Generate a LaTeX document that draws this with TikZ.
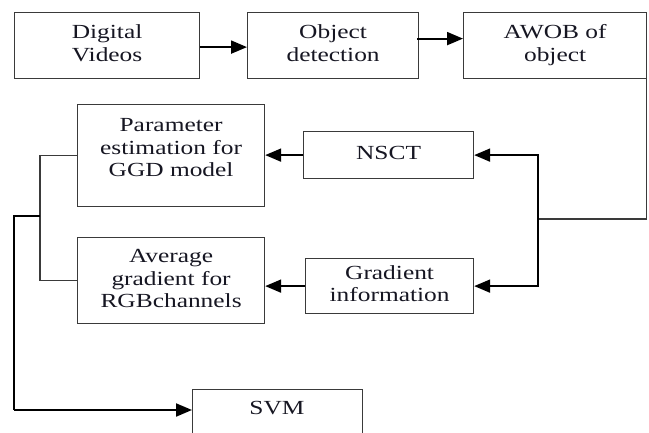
\documentclass[tikz,border=0pt]{standalone}
\usepackage{fontspec}
\setmainfont{Liberation Serif}
\usetikzlibrary{arrows.meta}
\definecolor{edge}{HTML}{3A3A3A}
\definecolor{ink}{HTML}{161622}
\newcommand\wtxt[1]{\scalebox{1.27}[1]{\begin{tabular}{@{}c@{}}#1\end{tabular}}}
\tikzset{
  box/.style={draw=edge, line width=1.2pt, rectangle, anchor=north west, inner sep=0pt,
    align=center, font=\rmfamily\fontsize{20}{22.5}\selectfont, text=ink},
  txt/.style={inner sep=0pt, align=center, font=\rmfamily\fontsize{20}{22.5}\selectfont, text=ink},
  arr/.style={draw=black, line width=2pt, -{Triangle[length=16pt,width=13pt]}},
  thinline/.style={draw=edge, line width=1.2pt},
  midline/.style={draw=black, line width=1.5pt}
}
\begin{document}
\begin{tikzpicture}[x=1pt,y=-1pt]
\useasboundingbox (0,0) rectangle (649,432);
\clip (0,0) rectangle (649,432);
% top row
\node[box, minimum width=185, minimum height=66] (dv) at (14,12) {\wtxt{Digital\\Videos}};
\node[box, minimum width=171, minimum height=66] (od) at (247,12) {\wtxt{Object\\detection}};
\node[box, minimum width=183, minimum height=66] (aw) at (463,12) {\wtxt{AWOB of\\object}};
% middle
\node[box, minimum width=187, minimum height=102] (par) at (77,104) {};
\node[txt] (parT) at ([yshift=6pt]par.center) {\wtxt{Parameter\\estimation for\\GGD model}};
\node[box, minimum width=170, minimum height=47] (nsct) at (303,131) {\wtxt{NSCT}};
\node[box, minimum width=187, minimum height=86] (ag) at (77,237) {\wtxt{Average\\gradient for\\RGBchannels}};
\node[box, minimum width=168, minimum height=55] (gi) at (305,258) {\wtxt{Gradient\\information}};
% bottom
\node[box, minimum width=170, minimum height=60] (svm) at (192,389) {};
\node[txt] (svmT) at (277,410) {\wtxt{SVM}};
% coordinates
\coordinate (split) at (538,219);
\coordinate (lj) at (40,216);
\coordinate (lc) at (14,216);
\coordinate (lb) at (14,410);
% top arrows
\draw[arr] ([yshift=-1.5pt]dv.east) -- ([yshift=-1.5pt]dv.east -| od.west);
\draw[arr] ([xshift=-2pt,yshift=7pt]od.east) -- ([yshift=7pt]od.east -| aw.west);
% right distribution
\draw[thinline] ([xshift=-0.6pt]aw.south east) |- (split);
\draw[arr] (split) |- (nsct.east);
\draw[arr] (split) |- (gi.east);
% into left boxes
\draw[arr] (nsct.west) -- (nsct.west -| par.east);
\draw[arr] (gi.west) -- (gi.west -| ag.east);
% left collector
\draw[thinline] (par.west) -| (lj) |- (ag.west);
\draw[midline] (lj) -- (lc) -- (lb);
\draw[arr] (lb) -- (lb -| svm.west);
\end{tikzpicture}
\end{document}
